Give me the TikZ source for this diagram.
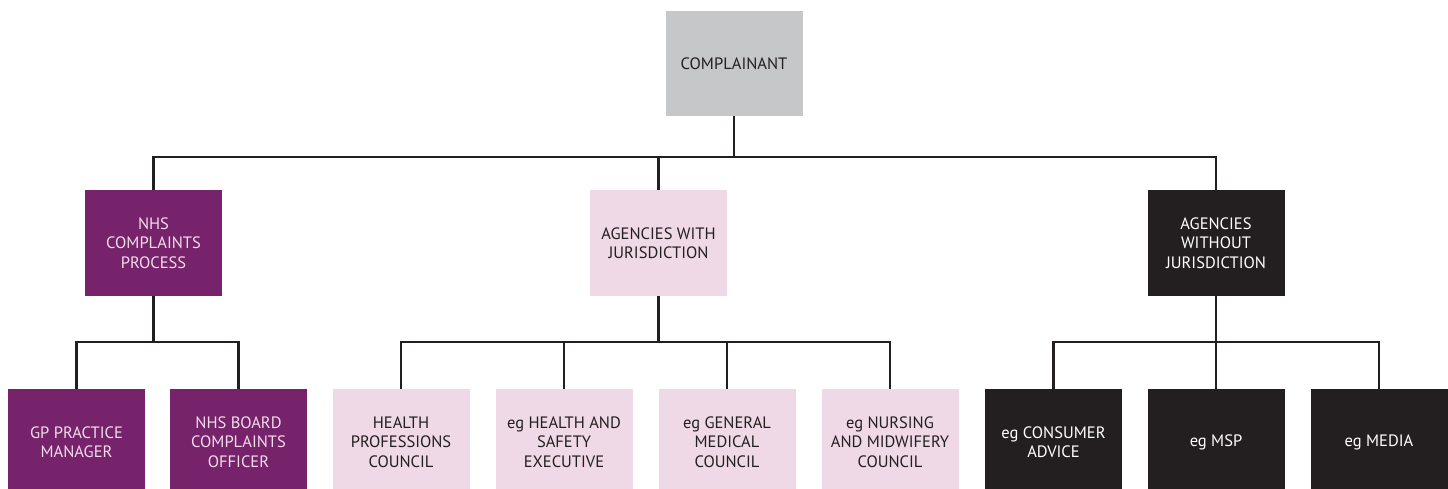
\documentclass[tikz,border=0pt]{standalone}
\usepackage{fontspec}
\setmainfont{PT Sans}
\definecolor{cgray}{HTML}{C6C7C9}
\definecolor{cpurple}{HTML}{76236C}
\definecolor{cpink}{HTML}{EFD9E6}
\definecolor{cblack}{HTML}{231F20}
\definecolor{cpurtext}{HTML}{F2DDEA}
\tikzset{
  box/.style={rectangle, inner sep=0pt, minimum width=137pt, align=center,
    font=\fontsize{16.5}{19.5}\selectfont},
  boxtop/.style={box, minimum height=105pt},
  boxlow/.style={box, minimum height=106pt},
  gray/.style={fill=cgray, text=cblack},
  purple/.style={fill=cpurple, text=cpurtext},
  pink/.style={fill=cpink, text=cblack},
  black/.style={fill=cblack, text=white},
  conn/.style={draw=cblack, line width=2.6pt}
}
\begin{document}
\begin{tikzpicture}[x=1pt,y=-1pt]
\useasboundingbox (0,0) rectangle (1448,489);
\clip (0,0) rectangle (1448,489);
% level 1
\node[boxtop,gray] (comp) at (734,63.5) {COMPLAINANT};
% level 2
\node[boxtop,purple,minimum height=106pt] (nhs) at (153.5,243) {NHS\\COMPLAINTS\\PROCESS};
\node[boxtop,pink,minimum height=106pt] (awj) at (658.5,243) {AGENCIES WITH\\JURISDICTION};
\node[boxtop,black,minimum height=106pt] (awo) at (1216,243) {AGENCIES\\WITHOUT\\JURISDICTION};
% level 3 (boxes run off the bottom edge)
\node[boxlow,purple] (gp) at (76.5,442) {GP PRACTICE\\MANAGER};
\node[boxlow,purple] (nhsb) at (238.5,442) {NHS BOARD\\COMPLAINTS\\OFFICER};
\node[boxlow,pink] (hpc) at (401,442) {HEALTH\\PROFESSIONS\\COUNCIL};
\node[boxlow,pink] (hse) at (564,442) {eg HEALTH AND\\SAFETY\\EXECUTIVE};
\node[boxlow,pink] (gmc) at (727,442) {eg GENERAL\\MEDICAL\\COUNCIL};
\node[boxlow,pink] (nmc) at (890,442) {eg NURSING\\AND MIDWIFERY\\COUNCIL};
\node[boxlow,black] (cons) at (1053.5,442) {eg CONSUMER\\ADVICE};
\node[boxlow,black] (msp) at (1216,442) {eg MSP};
\node[boxlow,black] (media) at (1379,442) {eg MEDIA};
% bus coordinates
\coordinate (b1) at (734,157);
\coordinate (b2) at (153.5,342);
\coordinate (b3) at (658.5,342);
\coordinate (b4) at (1216,342);
% connectors
\draw[conn] (comp.south) -- (b1);
\draw[conn] (nhs.north) |- (b1);
\draw[conn] (awj.north) -- (awj.north |- b1);
\draw[conn] (awo.north) |- (b1);
\draw[conn] (nhs.south) -- (b2);
\draw[conn] (gp.north) |- (b2);
\draw[conn] (nhsb.north) |- (b2);
\draw[conn] (awj.south) -- (b3);
\draw[conn] (hpc.north) |- (b3);
\draw[conn] (nmc.north) |- (b3);
\draw[conn] (hse.north) -- (hse.north |- b3);
\draw[conn] (gmc.north) -- (gmc.north |- b3);
\draw[conn] (awo.south) -- (b4);
\draw[conn] (cons.north) |- (b4);
\draw[conn] (media.north) |- (b4);
\draw[conn] (msp.north) -- (msp.north |- b4);
\end{tikzpicture}
\end{document}
